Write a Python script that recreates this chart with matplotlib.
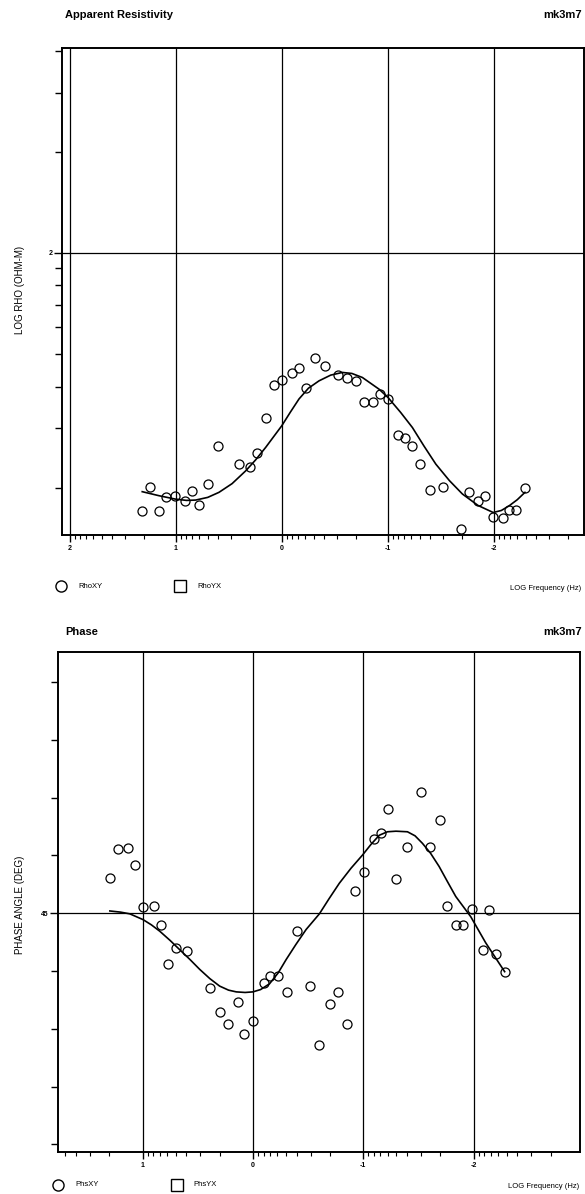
import matplotlib.pyplot as plt
from matplotlib.lines import Line2D
from matplotlib.ticker import FixedLocator, NullFormatter
import numpy as np

plt.rcParams['font.family'] = ['Liberation Sans', 'DejaVu Sans']

# apparent resistivity, RhoXY (log10 f, log10 rho)
rho_logf = [1.318, 1.245, 1.161, 1.092, 1.007, 0.912, 0.849, 0.783, 0.698, 0.601,
            0.402, 0.304, 0.232, 0.147, 0.075, -0.004, -0.098, -0.161, -0.225, -0.310,
            -0.404, -0.533, -0.610, -0.700, -0.775, -0.857, -0.924, -0.999, -1.099, -1.160,
            -1.226, -1.304, -1.398, -1.518, -1.691, -1.767, -1.849, -1.918, -1.993, -2.085,
            -2.147, -2.213, -2.293]
rho_xy = [1.230, 1.304, 1.231, 1.273, 1.276, 1.262, 1.290, 1.250, 1.312, 1.426,
          1.371, 1.361, 1.404, 1.508, 1.606, 1.622, 1.641, 1.657, 1.599, 1.688,
          1.662, 1.635, 1.627, 1.619, 1.556, 1.557, 1.581, 1.566, 1.458, 1.449,
          1.424, 1.371, 1.295, 1.302, 1.179, 1.287, 1.262, 1.277, 1.215, 1.212,
          1.234, 1.234, 1.299]

# model response for rho
rho_fit_logf = [1.318, 1.16, 1.007, 0.90, 0.814, 0.70, 0.594, 0.47, 0.342, 0.25,
                0.153, 0.08, 0.002, -0.08, -0.161, -0.25, -0.350, -0.46, -0.570, -0.66,
                -0.759, -0.917, -1.002, -1.12, -1.231, -1.34, -1.452, -1.58, -1.703, -1.85,
                -1.993, -2.07, -2.144, -2.22, -2.293]
rho_fit = [1.289, 1.277, 1.267, 1.263, 1.264, 1.272, 1.287, 1.313, 1.351, 1.383,
           1.421, 1.452, 1.485, 1.526, 1.565, 1.597, 1.619, 1.636, 1.644, 1.641,
           1.629, 1.594, 1.569, 1.525, 1.480, 1.425, 1.371, 1.322, 1.282, 1.248,
           1.227, 1.233, 1.247, 1.265, 1.287]

# phase, PhsXY (log10 f, degrees)
phs_logf = [1.296, 1.223, 1.136, 1.070, 0.995, 0.895, 0.837, 0.771, 0.693, 0.593,
            0.385, 0.295, 0.229, 0.138, 0.078, 0.000, -0.097, -0.157, -0.230, -0.305,
            -0.401, -0.522, -0.597, -0.700, -0.769, -0.856, -0.929, -1.004, -1.100, -1.161,
            -1.227, -1.299, -1.401, -1.528, -1.604, -1.700, -1.763, -1.842, -1.908, -1.989,
            -2.140, -2.083, -2.203, -2.282]
phs_xy = [51.1, 56.2, 56.3, 53.4, 46.0, 46.3, 43.0, 36.3, 39.0, 38.5,
          32.0, 28.0, 25.9, 29.7, 24.1, 26.3, 33.0, 34.2, 34.2, 31.3,
          42.0, 32.4, 22.2, 29.3, 31.3, 25.9, 48.9, 52.2, 57.8, 58.9,
          63.0, 50.9, 56.5, 65.9, 56.5, 61.2, 46.3, 42.9, 43.0, 45.8,
          45.5, 38.7, 38.0, 34.9]

phs_fit_logf = [1.296, 1.2, 1.115, 0.995, 0.92, 0.844, 0.75, 0.663, 0.57, 0.482,
                0.39, 0.301, 0.22, 0.150, 0.07, 0.000, -0.07, -0.151, -0.23, -0.302,
                -0.39, -0.483, -0.603, -0.69, -0.784, -0.89, -0.995, -1.07, -1.146, -1.22,
                -1.297, -1.401, -1.47, -1.537, -1.61, -1.688, -1.76, -1.839, -1.975, -2.110,
                -2.282]
phs_fit = [45.4, 45.2, 44.9, 43.9, 43.0, 41.9, 40.3, 38.7, 37.0, 35.3,
           33.7, 32.4, 31.7, 31.4, 31.3, 31.4, 31.8, 32.8, 34.7, 37.0,
           39.6, 42.2, 44.9, 47.5, 50.2, 52.8, 55.1, 56.9, 58.5, 59.1,
           59.2, 59.1, 58.4, 57.1, 55.4, 53.1, 50.6, 47.9, 44.4, 39.9,
           34.9]

W, H = 585, 1194
fig = plt.figure(figsize=(W / 100, H / 100), dpi=100)


def fx(px):
    return px / W


def fy(py):
    return 1 - py / H


# minor tick positions for log10 axes
x_minor = [n + np.log10(k) for n in range(-4, 3) for k in range(2, 10)]


def style(ax):
    for s in ax.spines.values():
        s.set_linewidth(1.4)
    ax.tick_params(axis='both', which='both', direction='out', colors='black')
    ax.tick_params(axis='x', which='major', length=5, width=1, labelsize=5, pad=2)
    ax.tick_params(axis='x', which='minor', length=3, width=0.8)
    ax.tick_params(axis='y', which='major', length=6, width=1, labelsize=5, pad=1)
    ax.tick_params(axis='y', which='minor', length=5, width=1)
    for lab in ax.get_xticklabels() + ax.get_yticklabels():
        lab.set_fontweight('bold')


# ---------------- Apparent resistivity ----------------
ax1 = fig.add_axes([fx(62), fy(535), fx(522), 487 / H])
ax1.set_xlim(2.075, -2.85)
ax1.set_ylim(1.16, 2.61)
ax1.xaxis.set_major_locator(FixedLocator([2, 1, 0, -1, -2]))
ax1.xaxis.set_minor_locator(FixedLocator(x_minor))
ax1.set_xticklabels(['2', '1', '0', '-1', '-2'])
ax1.yaxis.set_major_locator(FixedLocator([2]))
ax1.yaxis.set_minor_locator(FixedLocator([np.log10(v) for v in
                                          [20, 30, 40, 50, 60, 70, 80, 90, 200, 300, 400]]))
ax1.yaxis.set_minor_formatter(NullFormatter())
ax1.set_yticklabels(['2'])
ax1.grid(True, which='major', color='black', lw=0.9)
ax1.plot(rho_logf, rho_xy, 'o', mfc='none', mec='black', ms=6.5, mew=0.9)
ax1.plot(rho_fit_logf, rho_fit, '-', color='black', lw=1.2)
style(ax1)

fig.text(fx(65), fy(15), 'Apparent Resistivity', fontsize=8, fontweight='bold', va='center')
fig.text(fx(582), fy(15), 'mk3m7', fontsize=8, fontweight='bold', va='center', ha='right')
fig.text(fx(20), fy(290), 'LOG RHO (OHM-M)', fontsize=7, rotation=90, va='center', ha='center')

fig.add_artist(Line2D([fx(61)], [fy(586)], marker='o', ms=8, mfc='none', mec='black', mew=1,
                      transform=fig.transFigure))
fig.text(fx(78), fy(586), 'RhoXY', fontsize=5.5, va='center')
fig.add_artist(Line2D([fx(180)], [fy(586)], marker='s', ms=8, mfc='none', mec='black', mew=1,
                      transform=fig.transFigure))
fig.text(fx(197), fy(586), 'RhoYX', fontsize=5.5, va='center')
fig.text(fx(581), fy(588), 'LOG Frequency (Hz)', fontsize=5.5, va='center', ha='right')

# ---------------- Phase ----------------
ax2 = fig.add_axes([fx(58), fy(1152), fx(522), 500 / H])
ax2.set_xlim(1.766, -2.965)
ax2.set_ylim(3.7, 90.2)
ax2.xaxis.set_major_locator(FixedLocator([1, 0, -1, -2]))
ax2.xaxis.set_minor_locator(FixedLocator(x_minor))
ax2.set_xticklabels(['1', '0', '-1', '-2'])
ax2.yaxis.set_major_locator(FixedLocator([45]))
ax2.yaxis.set_minor_locator(FixedLocator([5, 15, 25, 35, 55, 65, 75, 85]))
ax2.set_yticklabels(['45'])
ax2.grid(True, which='major', color='black', lw=0.9)
ax2.plot(phs_logf, phs_xy, 'o', mfc='none', mec='black', ms=6.5, mew=0.9)
ax2.plot(phs_fit_logf, phs_fit, '-', color='black', lw=1.2)
style(ax2)

fig.text(fx(65), fy(632), 'Phase', fontsize=8, fontweight='bold', va='center')
fig.text(fx(582), fy(632), 'mk3m7', fontsize=8, fontweight='bold', va='center', ha='right')
fig.text(fx(20), fy(905), 'PHASE ANGLE (DEG)', fontsize=7, rotation=90, va='center', ha='center')

fig.add_artist(Line2D([fx(58)], [fy(1185)], marker='o', ms=8, mfc='none', mec='black', mew=1,
                      transform=fig.transFigure))
fig.text(fx(75), fy(1185), 'PhsXY', fontsize=5.5, va='center')
fig.add_artist(Line2D([fx(177)], [fy(1185)], marker='s', ms=8, mfc='none', mec='black', mew=1,
                      transform=fig.transFigure))
fig.text(fx(193), fy(1185), 'PhsYX', fontsize=5.5, va='center')
fig.text(fx(579), fy(1186), 'LOG Frequency (Hz)', fontsize=5.5, va='center', ha='right')

fig.savefig('out.png', dpi=100)
